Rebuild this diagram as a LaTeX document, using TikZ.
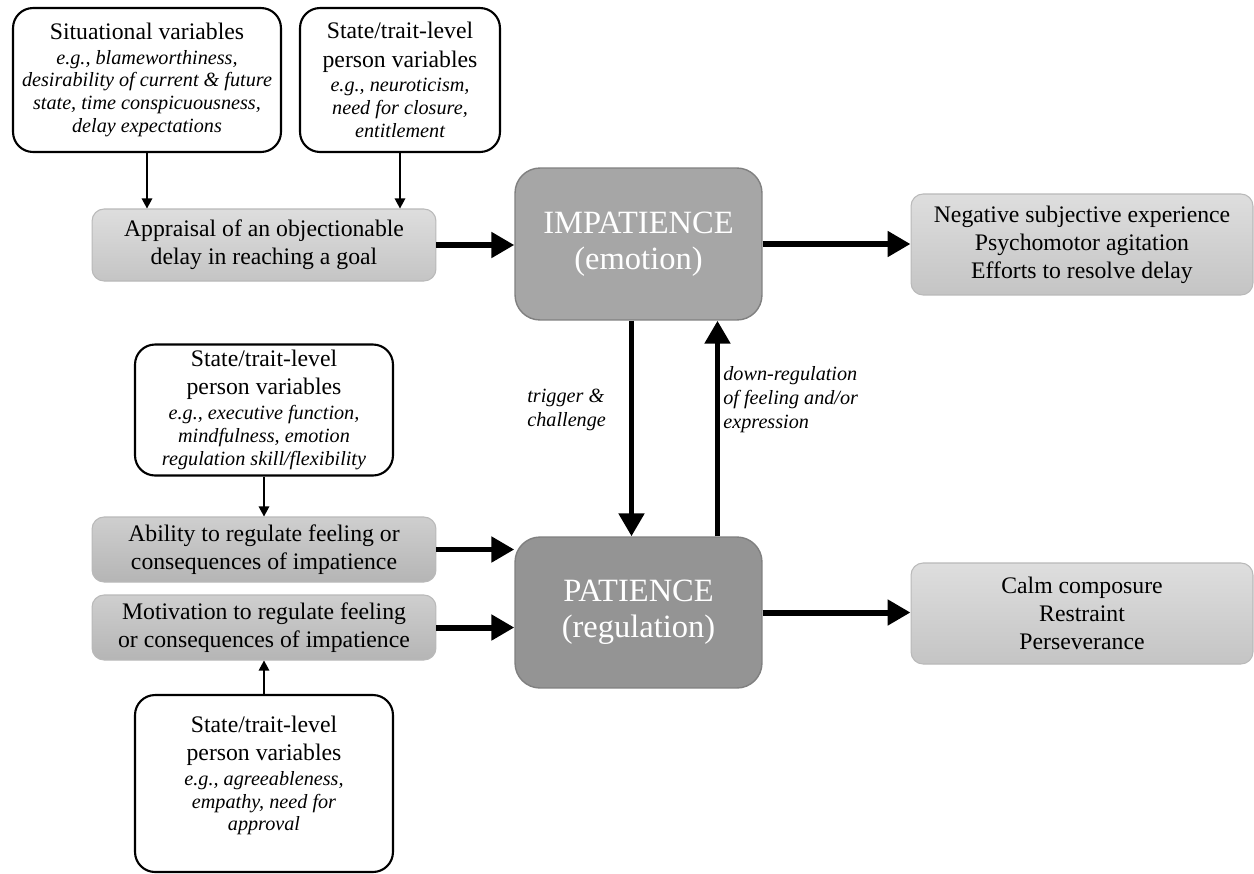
\documentclass[tikz,border=0pt]{standalone}
\usepackage{fontspec}
\setmainfont{Liberation Serif}[ItalicFont={Liberation Serif Italic}]
\usetikzlibrary{arrows.meta}

\newcommand{\mainsize}{\fontsize{13.5}{16}\selectfont}
\newcommand{\egsize}{\fontsize{11.5}{13.6}\selectfont\itshape}
\newcommand{\bigsize}{\fontsize{18.5}{20.5}\selectfont}

\begin{document}
\begin{tikzpicture}[x=0.02cm, y=-0.02cm,
  varbox/.style={draw=black, line width=1.2pt, fill=white, rounded corners=0.4cm,
    align=center, inner sep=0pt, font=\mainsize},
  graybox/.style={draw=gray!55, line width=0.6pt, rounded corners=0.24cm,
    top color=black!13, bottom color=black!23, align=center, inner sep=0pt, font=\mainsize},
  darkbox/.style={graybox, top color=black!19, bottom color=black!29},
  corebox/.style={draw=black!50, line width=0.8pt, rounded corners=0.5cm,
    align=center, inner sep=0pt, font=\bigsize, text=white},
  labeltext/.style={align=left, inner sep=0pt, font=\egsize},
  thin/.style={-{Triangle[length=5.7pt, width=6pt]}, line width=0.7pt},
  thick/.style={-{Triangle[length=13pt, width=14pt]}, line width=3.4pt}
]

\useasboundingbox (0,0) rectangle (1254,873);

%top row
\node[varbox, minimum width=5.36cm, minimum height=2.88cm] (sit) at (147,80)
  {Situational variables\\[-2pt]
   {\egsize e.g., blameworthiness,}\\[-3pt]
   {\egsize desirability of current \& future}\\[-3pt]
   {\egsize state, time conspicuousness,}\\[-3pt]
   {\egsize delay expectations}};
\node[varbox, minimum width=4.0cm, minimum height=2.88cm] (pertop) at (400,80)
  {State/trait-level\\person variables\\[-2pt]
   {\egsize e.g., neuroticism,}\\[-3pt]
   {\egsize need for closure,}\\[-3pt]
   {\egsize entitlement}};

\node[graybox, minimum width=6.88cm, minimum height=1.44cm] (appr) at (264,245)
  {Appraisal of an objectionable\\delay in reaching a goal};

\node[corebox, fill=black!35, minimum width=4.94cm, minimum height=3.04cm] (imp) at (638.5,244)
  {IMPATIENCE\\(emotion)};

\node[graybox, minimum width=6.84cm, minimum height=2.02cm] (neg) at (1082,244.5)
  {Negative subjective experience\\Psychomotor agitation\\Efforts to resolve delay};

%lower half
\node[varbox, minimum width=5.16cm, minimum height=2.62cm] (permid) at (264,410)
  {State/trait-level\\person variables\\[-2pt]
   {\egsize e.g., executive function,}\\[-3pt]
   {\egsize mindfulness, emotion}\\[-3pt]
   {\egsize regulation skill/flexibility}};

\node[darkbox, minimum width=6.88cm, minimum height=1.30cm] (abil) at (264,549.5)
  {Ability to regulate feeling or\\consequences of impatience};
\node[darkbox, minimum width=6.88cm, minimum height=1.30cm] (motiv) at (264,627.5)
  {Motivation to regulate feeling\\or consequences of impatience};

\node[varbox, minimum width=5.16cm, minimum height=3.54cm] (perbot) at (264,783.5)
  {State/trait-level\\person variables\\[-2pt]
   {\egsize e.g., agreeableness,}\\[-3pt]
   {\egsize empathy, need for}\\[-3pt]
   {\egsize approval}\rule[-0.4cm]{0pt}{0pt}};

\node[corebox, fill=black!42, minimum width=4.94cm, minimum height=3.02cm] (pat) at (638.5,612.5)
  {PATIENCE\\(regulation)};

\node[graybox, minimum width=6.84cm, minimum height=2.02cm] (calm) at (1082,613.5)
  {Calm composure\\Restraint\\Perseverance};

\node[labeltext, anchor=west] (trig) at (527,410) {trigger \&\\challenge};
\node[labeltext, anchor=west] (downreg) at (723,400) {down-regulation\\of feeling and/or\\expression};

%connectors
\draw[thin] (sit.south) -- (sit.south |- appr.north);
\draw[thin] (pertop.south) -- (pertop.south |- appr.north);
\draw[thin] (permid.south) -- (abil.north);
\draw[thin] (perbot.north) -- (motiv.south);

\draw[thick] (appr.east) -- (appr.east -| imp.west);
\draw[thick] (imp.east) -- (imp.east -| neg.west);
\draw[thick] ([xshift=-0.14cm]imp.south) -- ([xshift=-0.14cm]pat.north);
\draw[thick] ([xshift=1.58cm]pat.north) -- ([xshift=1.58cm]imp.south);
\draw[thick] (abil.east) -- (abil.east -| pat.west);
\draw[thick] (motiv.east) -- (motiv.east -| pat.west);
\draw[thick] (pat.east) -- (pat.east -| calm.west);

\end{tikzpicture}
\end{document}
